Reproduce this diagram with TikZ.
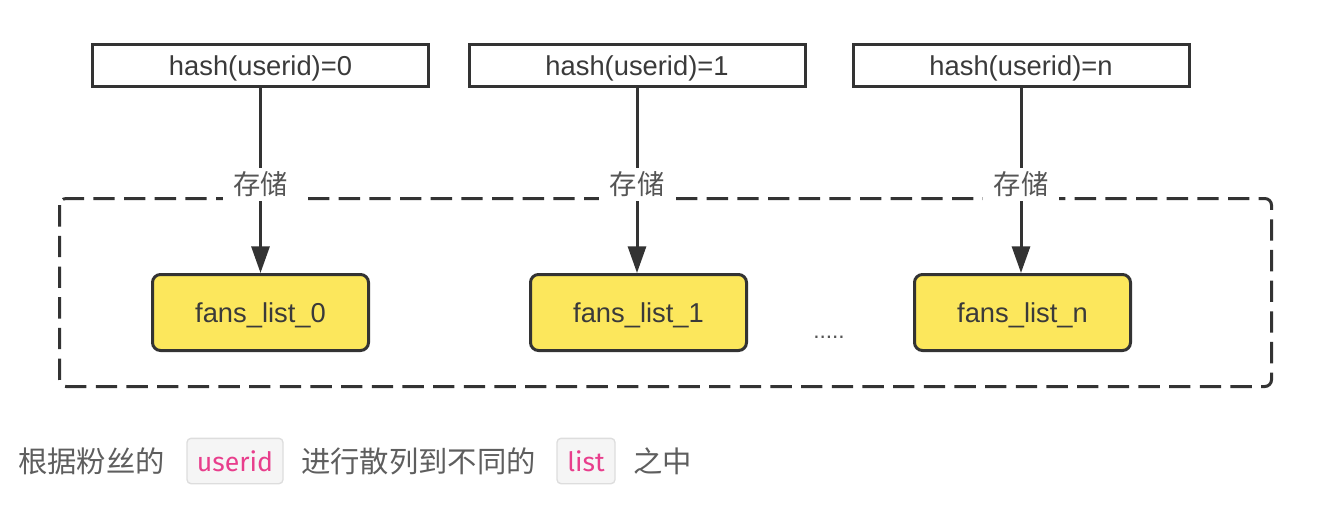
\documentclass[tikz,border=0pt]{standalone}
\usepackage{fontspec}
\setmainfont{Liberation Sans}
\newfontfamily\cjk{Noto Sans CJK SC}
\newfontfamily\codefont{Fira Sans}
\usetikzlibrary{arrows.meta}
\definecolor{edge}{HTML}{333333}
\definecolor{boxtxt}{HTML}{3A3A3A}
\definecolor{yel}{HTML}{FCE75C}
\definecolor{graytxt}{HTML}{555555}
\definecolor{captxt}{HTML}{5E5E5E}
\definecolor{pink}{HTML}{E83E8C}
\definecolor{codebg}{HTML}{F5F5F5}
\definecolor{codeborder}{HTML}{DDDDDD}
\begin{document}
\begin{tikzpicture}[x=0.75pt,y=-0.75pt,
  hashbox/.style={draw=edge, line width=2.25pt, fill=white, rectangle,
    minimum width=252pt, minimum height=31.5pt, inner sep=0pt,
    text height=17.5pt, text depth=2pt,
    text=boxtxt, font=\fontsize{20.5}{24}\selectfont},
  fansbox/.style={draw=edge, line width=2.25pt, fill=yel, rectangle, rounded corners=6pt,
    minimum width=162pt, minimum height=57pt, inner sep=0pt,
    text height=17.5pt, text depth=2pt,
    text=boxtxt, font=\fontsize{20.5}{24}\selectfont},
  groupbox/.style={draw=edge, line width=2.25pt, dash pattern=on 16pt off 7pt, rounded corners=5pt},
  storearrow/.style={draw=edge, line width=2.25pt, -{Triangle[length=20pt,width=13.5pt]}},
  lbl/.style={fill=white, inner xsep=8pt, inner ysep=3pt, text=graytxt, font=\cjk\fontsize{20.5}{24}\selectfont},
  cjktxt/.style={anchor=base west, inner sep=0pt, text=captxt, font=\cjk\fontsize{22}{26}\selectfont},
  codebox/.style={draw=codeborder, line width=1pt, fill=codebg, rounded corners=3pt,
    inner sep=0pt, minimum height=34pt, text=pink, font=\codefont\fontsize{20}{24}\selectfont}
]
\useasboundingbox (0,0) rectangle (1336,508);

% dashed group
\draw[groupbox] (59.5,198.5) rectangle (1271.5,386.5);

% top boxes
\node[hashbox] (h0) at (260.5,65.5) {hash(userid)=0};
\node[hashbox] (h1) at (637,65.5) {hash(userid)=1};
\node[hashbox] (hn) at (1021,65.5) {hash(userid)=n};

% fans lists
\node[fansbox] (f0) at (260.5,312.5) {fans\_list\_0};
\node[fansbox] (f1) at (638.5,312.5) {fans\_list\_1};
\node[fansbox] (fn) at (1022.5,312.5) {fans\_list\_n};

\node[text=graytxt, font=\fontsize{17}{20}\selectfont, inner sep=0pt] (dots) at (829,337) {.....};

% arrows
\draw[storearrow] (h0.south) -- node[lbl, pos=0.52] (s0) {存储} (h0.south |- f0.north);
\draw[storearrow] (h1.south) -- node[lbl, pos=0.52] (s1) {存储} (h1.south |- f1.north);
\draw[storearrow] (hn.south) -- node[lbl, pos=0.52] (sn) {存储} (hn.south |- fn.north);

% bottom caption
\node[cjktxt] (c1) at (18,472) {根据粉丝的};
\node[codebox, minimum width=72pt] (k1) at (235,461) {userid};
\node[cjktxt] (c2) at (301,472) {进行散列到不同的};
\node[codebox, minimum width=43.5pt] (k2) at (586,461) {list};
\node[cjktxt] (c3) at (633,472) {之中};
\end{tikzpicture}
\end{document}
